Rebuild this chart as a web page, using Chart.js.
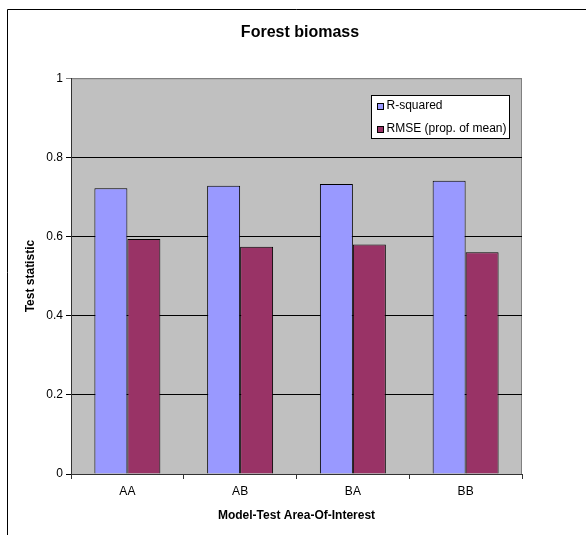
<!DOCTYPE html>
<html>
<head>
<meta charset="utf-8">
<script src="https://cdn.jsdelivr.net/npm/chart.js@4"></script>
<style>
  html, body { margin: 0; padding: 0; background: #fff; }
  #wrap { width: 586px; height: 535px; position: relative; }
</style>
</head>
<body>
<div id="wrap"><canvas id="c" width="586" height="535"></canvas></div>
<script>
const categories = ['AA', 'AB', 'BA', 'BB'];
const seriesNames = ['R-squared', 'RMSE (prop. of mean)'];
const rSquared = [0.722, 0.728, 0.733, 0.741];
const rmse = [0.594, 0.574, 0.580, 0.560];
const yTicks = [0, 0.2, 0.4, 0.6, 0.8, 1];

const FONT = '"Liberation Sans", Arial, sans-serif';

const frame = {
  id: 'frame',
  beforeDraw(chart) {
    const {ctx, chartArea: a} = chart;
    ctx.save();
    ctx.fillStyle = '#fff';
    ctx.fillRect(0, 0, chart.width, chart.height);
    // outer chart border (top and left visible)
    ctx.strokeStyle = '#000';
    ctx.lineWidth = 1;
    ctx.beginPath();
    ctx.moveTo(7.5, chart.height);
    ctx.lineTo(7.5, 9.5);
    ctx.lineTo(chart.width, 9.5);
    ctx.stroke();
    // plot area
    ctx.fillStyle = '#C0C0C0';
    ctx.fillRect(a.left, a.top, a.right - a.left, a.bottom - a.top);
    ctx.strokeStyle = '#808080';
    ctx.strokeRect(a.left + 0.5, a.top + 0.5, a.right - a.left - 1, a.bottom - a.top);
    ctx.restore();
  }
};

const boxLegend = {
  id: 'boxLegend',
  afterDraw(chart) {
    const {ctx, chartArea: a} = chart;
    ctx.save();
    ctx.font = '12px ' + FONT;
    const sets = chart.data.datasets;
    let maxW = 0;
    sets.forEach(d => { maxW = Math.max(maxW, ctx.measureText(d.label).width); });
    const x = Math.round(a.right - 151) + 0.5;
    const y = Math.round(a.top + 17) + 0.5;
    const w = Math.round(15 + maxW + 3);
    const h = 43;
    ctx.fillStyle = '#fff';
    ctx.fillRect(x, y, w, h);
    ctx.strokeStyle = '#000';
    ctx.lineWidth = 1;
    ctx.strokeRect(x, y, w, h);
    ctx.textBaseline = 'middle';
    sets.forEach((d, i) => {
      const cy = y + 10.5 + i * 23;
      ctx.fillStyle = d.backgroundColor;
      ctx.fillRect(Math.round(x + 5), Math.round(cy - 3.5), 6, 6);
      ctx.strokeStyle = '#000';
      ctx.strokeRect(Math.round(x + 5) + 0.5, Math.round(cy - 3.5) + 0.5, 6, 6);
      ctx.fillStyle = '#000';
      ctx.fillText(d.label, x + 15, cy);
    });
    ctx.restore();
  }
};

new Chart(document.getElementById('c'), {
  type: 'bar',
  data: {
    labels: categories,
    datasets: [
      { label: seriesNames[0], data: rSquared, backgroundColor: '#9999FF', borderColor: '#000', borderWidth: 1, borderSkipped: 'start' },
      { label: seriesNames[1], data: rmse, backgroundColor: '#993366', borderColor: '#000', borderWidth: 1, borderSkipped: 'start' }
    ]
  },
  options: {
    responsive: false,
    animation: false,
    devicePixelRatio: 1,
    layout: { padding: { left: 14, right: 0, top: 0, bottom: 0 } },
    datasets: { bar: { categoryPercentage: 0.585, barPercentage: 1 } },
    plugins: {
      legend: { display: false },
      tooltip: { enabled: false },
      title: {
        display: true,
        text: 'Forest biomass',
        color: '#000',
        font: { family: FONT, size: 16, weight: 'bold' },
        padding: { top: 23, bottom: 36 }
      }
    },
    scales: {
      x: {
        grid: { display: true, drawOnChartArea: false, drawTicks: true, tickLength: 5, color: '#333', offset: true },
        border: { display: true, color: '#333', width: 1 },
        ticks: { color: '#000', font: { family: FONT, size: 12 }, padding: 5, maxRotation: 0 },
        title: { display: true, text: 'Model-Test Area-Of-Interest', color: '#000', font: { family: FONT, size: 12, weight: 'bold' }, padding: { top: 0, bottom: 12 } },
        afterFit(s) { s.height = 61; }
      },
      y: {
        min: 0, max: 1,
        afterBuildTicks(s) { s.ticks = yTicks.map(v => ({ value: v })); },
        grid: {
          drawTicks: true, tickLength: 5,
          color: c => (c.tick && c.tick.value === 1) ? '#808080' : '#000',
          lineWidth: 1
        },
        border: { display: true, color: '#333', width: 1 },
        ticks: { color: '#000', font: { family: FONT, size: 12 }, padding: 3, callback: v => String(v) },
        title: { display: true, text: 'Test statistic', color: '#000', font: { family: FONT, size: 12, weight: 'bold' }, padding: { top: 9, bottom: 0 } },
        afterFit(s) { s.width = 57; }
      },
      yRightSpace: {
        position: 'right',
        display: true,
        grid: { display: false, drawTicks: false },
        border: { display: false },
        ticks: { display: false },
        afterFit(s) { s.width = 64; }
      }
    }
  },
  plugins: [frame, boxLegend]
});
</script>
</body>
</html>
